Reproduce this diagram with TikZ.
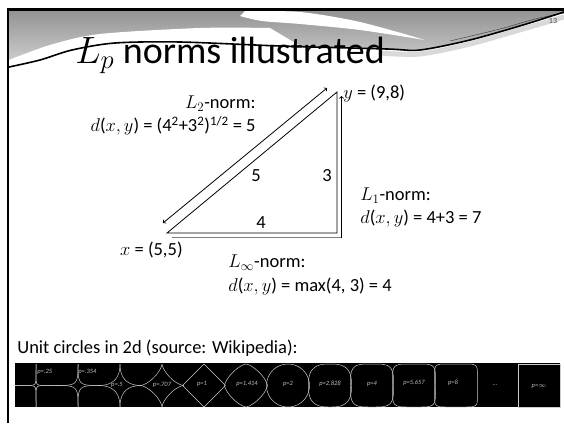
\documentclass[tikz,border=0pt]{standalone}
\usepackage{fix-cm}
\usepackage{amsmath,amssymb}
\usepackage{fontspec}
\setmainfont{Carlito}
\usepackage{tikz}
\usepackage{xcolor}

\tikzset{
  lbl/.style={inner sep=0pt, font=\fontsize{18.5}{23.5}\selectfont},
  ucurve/.style={draw=white!80!black, line width=0.5pt},
  plbl/.style={inner sep=0pt, text=white!75!black, font=\fontsize{6.5}{7}\selectfont\itshape},
}

\begin{document}
\begin{tikzpicture}[x=1pt, y=-1pt, line width=0.8pt]
    \useasboundingbox (0,0) rectangle (564,423);
    % Header band
    \shade[top color=gray!85, bottom color=gray!35] (9,10) -- (564,10) -- plot[smooth] coordinates {(564,12) (523,25) (470,40) (420,50) (387,49) (280,46) (180,42) (115,43) (72,50) (40,60) (9,67)} -- cycle;
    \fill[white] plot[smooth] coordinates {(9,60) (50,45) (100,34) (200,28) (270,28)} -- (300,46) -- plot[smooth] coordinates {(280,46) (180,42) (115,43) (72,50) (40,60) (9,67)} -- cycle;
    \fill[white] plot[smooth] coordinates {(245,11) (300,12) (360,22) (425,40)} -- plot[smooth] coordinates {(425,40) (360,30) (300,24) (262,21) (240,16)} -- cycle;
    \draw[gray!30, line width=5pt] plot[smooth] coordinates {(380,53) (420,54) (470,44) (523,29) (564,17)};
    \draw[gray!55!black, line width=0.5pt] plot[smooth] coordinates {(450,41) (500,29) (535,19) (564,13)};
    \draw[line width=1.6pt] plot[smooth] coordinates {(9,67) (40,60) (72,50) (115,43) (180,42) (280,46) (387,49) (420,50) (470,40) (523,25) (564,12)};
    % Frame
    \draw[line width=3pt] (7,9) -- (564,9);
    \draw[line width=2pt] (8,423) -- (8,8);
    \node[inner sep=0pt, text=gray!60!black, font=\fontsize{8}{8}\selectfont] (pgno) at (553,21) {13};
    % Title
    \node[anchor=base west, inner sep=0pt, font=\fontsize{38}{42}\selectfont] (title) at (75,63) {$L_p$ norms illustrated};
    % Triangle
    \coordinate (xp) at (167,233);
    \coordinate (yp) at (337,92);
    \coordinate (cr) at (337,233);
    \draw (xp) -- (yp) -- (cr) -- cycle;
    \coordinate (sa) at (172,237.5);
    \coordinate (sb) at (341.5,237.5);
    \coordinate (sc) at (341.5,96);
    \draw[gray, line width=1.2pt] (sa) -- (sb);
    \draw[->] (sb) -- (sc);
    \coordinate (da) at (163,223);
    \coordinate (db) at (327,88);
    \draw[<->] (da) -- (db);
    % Labels
    \node[lbl] (hyp) at (256,176) {5};
    \node[lbl] (vert) at (327,176) {3};
    \node[lbl] (horz) at (261,223) {4};
    \node[lbl, anchor=west] (ylbl) at (343,94) {$y$ = (9,8)};
    \node[lbl, anchor=east] (xlbl) at (183,250) {$x$ = (5,5)};
    \node[lbl, anchor=east, align=right] (ltwo) at (256,115.5) {$L_2$-norm:\\ $d$($x, y$) = (4\textsuperscript{2}+3\textsuperscript{2})\textsuperscript{1/2} = 5};
    \node[lbl, anchor=west, align=left] (lone) at (360,207.5) {$L_1$-norm:\\ $d$($x, y$) = 4+3 = 7};
    \node[lbl, anchor=west, align=left] (linf) at (228,275) {$L_\infty$-norm:\\ $d$($x, y$) = max(4, 3) = 4};
    \node[lbl, anchor=west] (cap) at (17,348) {Unit circles in 2d (source: Wikipedia):};
    % Unit circles strip
    \fill[black] (15,363) rectangle (560,407);
    \foreach \pv/\i in {0.25/0, 0.354/1, 0.5/2, 0.707/3, 1/4, 1.414/5, 2/6, 2.828/7, 4/8, 5.657/9, 8/10}
      \foreach \sx/\sy in {1/1, -1/1, 1/-1, -1/-1}
        \draw[ucurve] plot[domain=0:90, samples=60] ({36+42*\i+\sx*21.5*abs(cos(\x))^(2/\pv)}, {385.5+\sy*21.5*abs(sin(\x))^(2/\pv)});
    \draw[ucurve] (518,364) rectangle (560,407);
    \node[plbl, anchor=west] (pa) at (37,372) {p=.25};
    \node[plbl, anchor=west] (pb) at (78,372) {p=.354};
    \node[plbl] (pc) at (117,385) {p=.5};
    \node[plbl] (pd) at (162,385) {p=.707};
    \node[plbl] (pe) at (202,384) {p=1};
    \node[plbl] (pf) at (247,384) {p=1.414};
    \node[plbl] (pg) at (288,384) {p=2};
    \node[plbl] (ph) at (330,384) {p=2.828};
    \node[plbl] (pi) at (372,384) {p=4};
    \node[plbl] (pj) at (414,383) {p=5.657};
    \node[plbl] (pk) at (453,383) {p=8};
    \node[plbl] (pl) at (495,385) {...};
    \node[plbl] (pm) at (539,386) {p=$\infty$};
\end{tikzpicture}
\end{document}
